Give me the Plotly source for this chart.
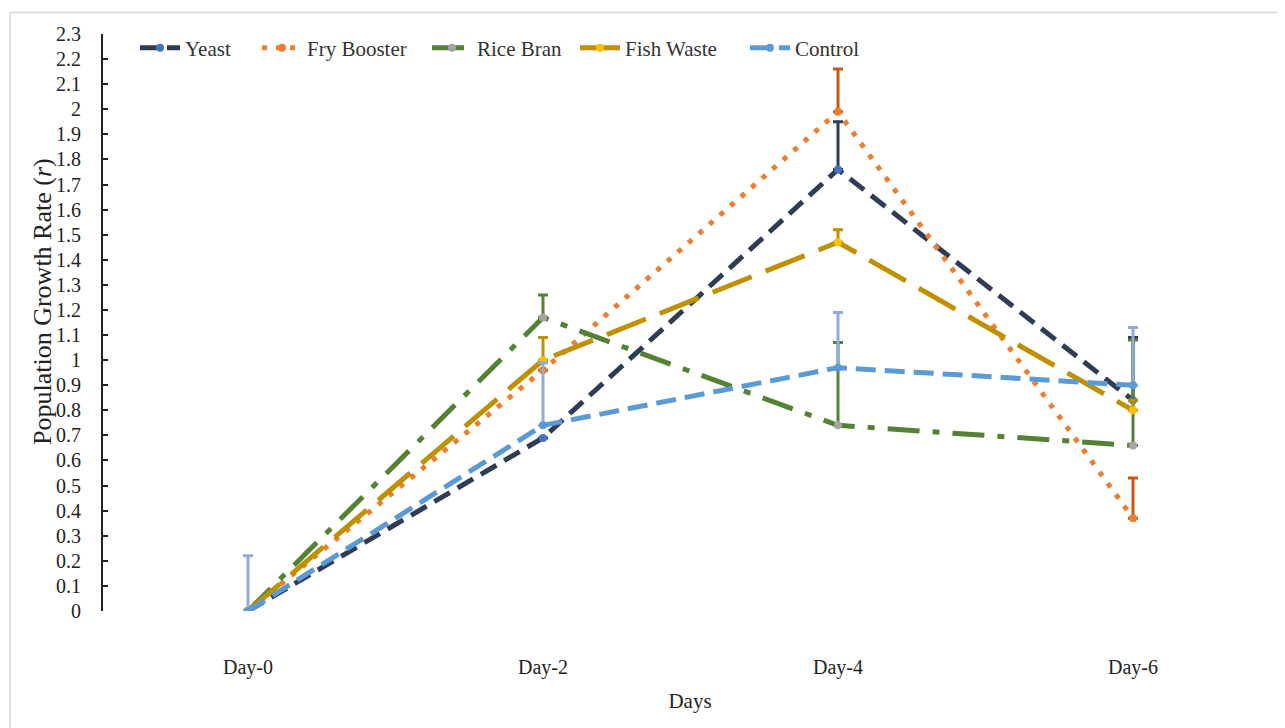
import plotly.graph_objects as go

days = ["Day-0", "Day-2", "Day-4", "Day-6"]
y_ticks = [round(i * 0.1, 1) for i in range(24)]
y_tick_labels = [f"{v:g}" for v in y_ticks]

yeast = [0, 0.69, 1.76, 0.84]
yeast_err = [0, 0, 0.19, 0.25]
fry_booster = [0, 0.96, 1.99, 0.37]
fry_booster_err = [0, 0, 0.17, 0.16]
rice_bran = [0, 1.17, 0.74, 0.66]
rice_bran_err = [0, 0.09, 0.33, 0.42]
fish_waste = [0, 1.0, 1.47, 0.80]
fish_waste_err = [0, 0.09, 0.05, 0.04]
control = [0, 0.74, 0.97, 0.90]
control_err = [0.22, 0.25, 0.22, 0.23]

series = [
    ("Yeast", yeast, yeast_err, "#2F3D54", "18px,9px", "#4472C4", "#2F3D54"),
    ("Fry Booster", fry_booster, fry_booster_err, "#ED7D31", "5px,9px", "#ED7D31", "#C55A11"),
    ("Rice Bran", rice_bran, rice_bran_err, "#548235", "32px,13px,7px,13px", "#A5A5A5", "#548235"),
    ("Fish Waste", fish_waste, fish_waste_err, "#BF9000", "42px,15px", "#FFC000", "#BF9000"),
    ("Control", control, control_err, "#5B9BD5", "20px,9px", "#5B9BD5", "#8FAADC"),
]

# page is offset by the 8px body margin
W, H = 1277, 720
L, R, T, B = 95, 8, 26, 117
pw, ph = W - L - R, H - T - B
y0px = H - B
FONT = "Liberation Serif"

legend_starts = [127, 249, 419, 567, 737]

fig = go.Figure()
legend_layout = {}
for i, (name, vals, err, lc, dash, mc, ec) in enumerate(series):
    lname = "legend" if i == 0 else f"legend{i + 1}"
    fig.add_trace(go.Scatter(
        x=days, y=vals, name=name, mode="lines+markers",
        line=dict(color=lc, width=5, dash=dash),
        marker=dict(color=mc, size=8),
        legend=lname,
        error_y=dict(type="data", array=err, arrayminus=[0] * len(err), symmetric=False,
                     color=ec, thickness=3, width=5),
    ))
    legend_layout[lname] = dict(
        orientation="h", x=(legend_starts[i] - L) / pw, y=(y0px - 40) / ph,
        xanchor="left", yanchor="middle",
        font=dict(size=21, family=FONT, color="#333"),
        bgcolor="rgba(0,0,0,0)", itemwidth=40,
    )

fig.update_layout(
    width=W, height=H,
    margin=dict(l=L, r=R, t=T, b=B),
    paper_bgcolor="white", plot_bgcolor="white",
    font=dict(family=FONT, size=20, color="#222"),
    showlegend=True,
    xaxis=dict(
        range=[-(240 - L) / 295, 3 + (W - R - 1125) / 295],
        showline=False, showgrid=False, zeroline=False, ticks="",
        ticklabelstandoff=42,
        tickfont=dict(size=20, family=FONT),
        title=dict(text="Days", font=dict(size=21, family=FONT), standoff=15),
    ),
    yaxis=dict(
        range=[0, 2.3], tickvals=y_ticks, ticktext=y_tick_labels,
        showline=True, linecolor="#222", linewidth=2, showgrid=False, zeroline=False,
        ticks="inside", ticklen=5, tickwidth=2, tickcolor="#222",
        ticklabelstandoff=16,
        tickfont=dict(size=20, family=FONT),
    ),
    annotations=[
        dict(text="Population Growth Rate (<i>r</i>)", textangle=-90, showarrow=False,
             xref="paper", yref="paper", x=(34 - L) / pw, y=(y0px - 294) / ph,
             xanchor="center", yanchor="middle",
             font=dict(size=26, family=FONT, color="#222")),
    ],
    shapes=[
        dict(type="line", xref="paper", yref="paper",
             x0=(2 - L) / pw, x1=(W + 5 - L) / pw, y0=(y0px - 4.5) / ph, y1=(y0px - 4.5) / ph,
             line=dict(color="#D9D9D9", width=1.5)),
        dict(type="line", xref="paper", yref="paper",
             x0=(2 - L) / pw, x1=(2 - L) / pw, y0=(y0px - 4.5) / ph, y1=(y0px - H - 5) / ph,
             line=dict(color="#D9D9D9", width=1.5)),
    ],
    **legend_layout,
)

fig.write_html("out.html")
